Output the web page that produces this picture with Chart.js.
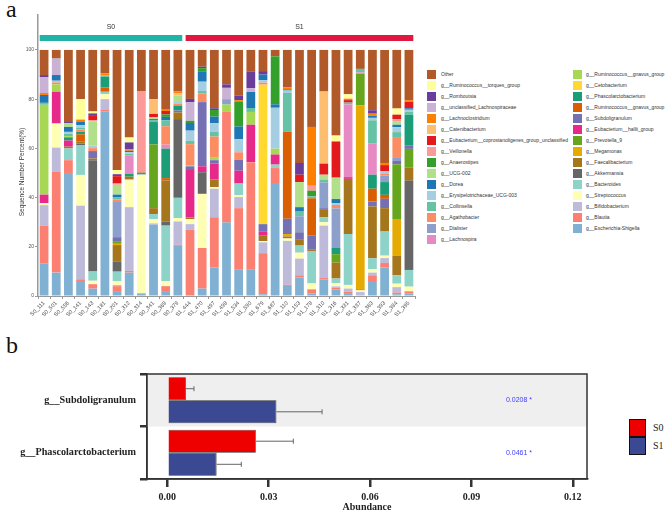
<!DOCTYPE html>
<html>
<head>
<meta charset="utf-8">
<script src="https://cdn.jsdelivr.net/npm/chart.js@4.4.1/dist/chart.umd.min.js"></script>
<style>
  body { margin: 0; background: #fff; width: 671px; height: 516px; position: relative; overflow: hidden; font-family: "Liberation Sans", Arial, sans-serif; }
  #chartA { position: absolute; left: 0; top: 0; }
  #chartB { position: absolute; left: 0; top: 340px; }
  .panel { position: absolute; font-family: "Liberation Serif", serif; font-size: 24px; color: #111; }
  .lg { position: absolute; font-size: 5px; color: #333; white-space: nowrap; line-height: 9px; }
  .sw { position: absolute; width: 9px; height: 9px; }
  .lgb { position: absolute; width: 15px; height: 16px; border: 1.5px solid #111; }
  .lgbt { position: absolute; font-family: "Liberation Serif", serif; font-size: 10px; color: #222; }
</style>
</head>
<body>
<div class="panel" style="left:6px;top:-4px;">a</div>
<div class="panel" style="left:6px;top:332px;">b</div>
<canvas id="chartA" width="425" height="330"></canvas>
<canvas id="chartB" width="600" height="176"></canvas>
<div id="legendA"></div>
<div id="legendB"></div>
<script>
// ---------- panel a: samples ----------
const sampleLabels = ["S0_111", "S0_501", "S0_556", "S0_141", "S0_143", "S0_181", "S0_201", "S0_312", "S0_314", "S0_341", "S0_369", "S0_379",
  "S1_444", "S1_470", "S1_497", "S1_498", "S1_534", "S1_590", "S1_679", "S1_687", "S1_110", "S1_153", "S1_178", "S1_310", "S1_316",
  "S1_331", "S1_337", "S1_363", "S1_393", "S1_384", "S1_395"];
const groupNames = ["S0", "S1"];
const groupSizes = [12, 19];
const groupColors = ["#20B3A6", "#E0173F"];

// relative abundance (%) per genus, one value per sample (bottom of stack first)
const escherichia = [13.3, 9.5, 50, 6.1, 3, 75.1, 2, 9.5, 0.8, 29, 2, 20.4, 0, 3, 11.6, 29.9, 10.9, 10.9, 0.7, 45.9, 4.1, 7.5, 1.1, 6.8, 2.7, 1.2, 0, 6.1, 11.6, 0.7, 1.1];
const blautia = [15.2, 41.1, 5.2, 0.7, 1.8, 0.5, 2, 0.7, 0, 0, 2, 0.4, 26.9, 16.5, 20.4, 44.9, 24.8, 43.5, 16.7, 6.1, 0.5, 0.9, 1.6, 0.5, 0.7, 0.6, 0, 2.3, 1.8, 0.7, 0.8];
const bifidobacterium = [8.4, 9.7, 0, 29.9, 0, 4.4, 0.5, 25.9, 0.4, 0.5, 0, 9.5, 2.3, 0, 11.6, 0, 4.5, 0, 4.4, 0, 17.8, 6.8, 0, 21.3, 0.5, 1.2, 1.6, 1.1, 2, 2.2, 0];
const streptococcus = [0.8, 9.8, 0, 12.5, 1.4, 2, 1.6, 10.9, 48, 1.8, 2, 1.4, 2, 22, 0.7, 0, 0.7, 0, 0.5, 0, 1, 2.4, 2.4, 1.4, 1.3, 1.5, 0.7, 1.4, 1, 1.4, 1.9];
const bacteroides = [0, 0, 4.8, 12, 3.8, 1, 3.8, 0.5, 0.3, 2, 22.6, 8.2, 0, 0, 0, 0, 4.8, 0, 0, 1.4, 0, 2.9, 13.2, 2, 1.9, 20.7, 0, 4.4, 9.8, 3.4, 6.8];
const akkermansia = [0, 0, 0, 0.7, 45.2, 0, 4, 0, 0, 0, 1.6, 32, 0, 8.8, 0, 0, 0, 0, 0, 0, 0, 0, 0, 0, 0, 0, 0, 0, 0, 0, 36.3];
const faecalibacterium = [0, 0, 0.7, 1, 0.7, 0, 6.8, 1, 0.7, 2.4, 16.7, 2.7, 0.7, 0, 3, 0, 0, 0, 2.2, 0, 0.8, 2.6, 0.5, 3, 6.5, 22.4, 0.4, 21.1, 9.5, 7.9, 5.4];
const megamonas = [0, 0, 0, 0, 0, 0, 0.5, 0, 0, 0, 0, 0, 0, 0, 0, 0, 0, 0, 0, 0, 1, 0, 0, 0, 0, 0, 74.8, 0, 0, 15, 0];
const prevotella9 = [0, 0, 0, 0, 0, 0, 1.1, 0, 0, 25.9, 0, 0, 0, 0, 0, 0, 0, 0, 0, 0, 0, 0, 0, 0, 3.4, 0, 12.9, 0, 0, 22.2, 7.5];
const eubHallii = [3.5, 12.9, 2.5, 0, 0, 0, 0, 0, 0, 0, 0, 0, 19.3, 2.4, 6.5, 0, 5.2, 15.2, 1.6, 4.1, 0, 0, 0, 0, 0, 0.7, 0, 0, 0, 0, 0];
const subdoligranulum = [0, 0, 0, 0, 3, 0, 1.6, 0, 0, 0, 0, 0.8, 1.5, 26.1, 1.4, 0, 4.4, 0, 3.1, 0, 6.2, 2.8, 5.7, 0.7, 0, 0, 0, 2, 3.8, 1.6, 1.3];
const rumGnavusB = [0, 0, 0, 2.8, 0, 1.7, 0, 0, 0, 0, 1, 0, 0, 0, 0, 0, 0, 0, 0, 0, 35.5, 0, 15.2, 0, 0, 0, 0, 5.2, 1.6, 0, 0];
const phascolarcto = [0, 0, 1.3, 1, 0, 4.4, 0, 1.2, 0, 9.1, 12, 2, 0, 0, 0, 0, 0, 0, 0, 0, 0, 0, 0, 0, 2.7, 0, 0, 5.7, 5.2, 0, 12.6];
const cetobacterium = [0, 0, 0, 0, 0, 0, 0, 0, 0, 0, 0, 0, 0, 0, 0, 0, 0, 0, 56.7, 0, 0, 0, 0, 0, 0, 0, 0, 0, 0, 0, 0];
const rumGnavusA = [36.5, 3, 0.5, 0, 0, 0, 0, 0, 0, 0, 0, 0, 0.5, 0, 1, 3, 0, 5.2, 0, 2.4, 0, 0, 0, 0, 0, 0, 0, 0, 0, 0, 0];
const lachnospira = [0, 0, 0, 0, 0, 0, 0, 7.5, 0, 0, 1.6, 0, 0, 0, 0, 0, 0, 0, 0, 0, 0, 0, 0, 0, 0, 29.5, 0.5, 12.6, 0, 0, 0];
const dialister = [0, 0, 0, 0, 0, 0, 14.3, 0, 0, 0, 0, 0, 0, 0, 0, 2.2, 0, 0, 0, 0, 0, 6.5, 0, 10.5, 15.9, 0, 0, 0, 2.7, 1, 0];
const agathobacter = [0, 0.8, 0, 1, 1.2, 0, 1, 0, 0, 0, 7.5, 0.8, 8.5, 3.5, 8.6, 0, 3.1, 0, 0.8, 0, 0, 0, 0, 0, 1.4, 0, 0, 0, 0.8, 8.5, 0];
const collinsella = [0.8, 0, 1, 0.7, 0, 0.5, 1, 0.6, 0, 0.6, 2.4, 0, 1.4, 1, 2, 0, 0, 1.6, 0, 0, 15.6, 1.9, 0.8, 1.1, 0, 0.8, 1.4, 9.5, 0, 2, 1.2];
const erysipUCG003 = [0, 0.7, 0.7, 1, 1, 0, 0, 0.6, 0, 0, 0, 1, 4.1, 3.8, 3.4, 0, 5.3, 0, 1, 16.6, 1, 0, 0, 0, 0.8, 0, 0, 1, 1, 2, 0.8];
const dorea = [3.2, 2.3, 2, 1.5, 0, 0, 1, 0.6, 0, 0.6, 1.4, 0, 3.1, 4, 2.7, 0, 5.2, 6.5, 2.3, 1.4, 0.5, 1.8, 0, 0, 1.6, 0, 0, 0.8, 0, 1, 0.6];
const ucg002 = [0, 0, 1.5, 0, 9.8, 0, 4, 0, 0, 0.7, 0, 2.2, 0, 0, 0, 0, 0, 0, 0, 0, 0, 10.2, 0, 2, 8.7, 0, 0, 0, 0, 1.5, 0];
const anaerostipes = [0, 0, 0, 0, 0, 0, 0, 0, 0, 0, 1, 0, 0.9, 1.5, 2.7, 0, 10.2, 0, 0, 19.5, 0, 0, 2.3, 0, 0, 0, 0, 0, 0, 0, 0];
const veillonella = [0, 0, 0, 0, 0.6, 0, 0.5, 0, 33.1, 0, 0, 0, 0, 0, 0, 0, 0, 0, 0, 0, 0, 0, 2, 0, 0, 0, 0, 0, 0, 0.8, 0];
const eubCopro = [0, 0, 0, 0, 1.7, 0, 3, 0, 0, 1.4, 1.4, 0, 0, 0, 0, 0, 0, 0, 0, 0, 0, 3, 0, 4.5, 14.7, 1, 0, 0, 2.4, 1.8, 2.6];
const catenibacterium = [0, 0, 0, 0, 0, 0, 0, 0, 0, 6, 0, 1, 0, 0, 0, 0, 0, 0, 0, 0, 0, 0, 0, 29.3, 0, 0, 0, 0, 0, 0, 0];
const lachnoclostridium = [0.8, 0, 0, 0.8, 0, 0.9, 0, 0.6, 0, 0, 0.8, 0.8, 0, 0, 0, 0, 0.5, 0, 0, 0, 0.8, 0, 23.9, 0, 0, 0.6, 0, 0.9, 0.9, 0, 0.7];
const unclLachno = [6.5, 6.7, 0, 0, 0, 0, 0, 0, 0, 0, 0, 0, 7.5, 0, 0, 4.6, 0, 1.6, 0, 0, 0, 0, 0, 0, 0, 0, 0, 0, 0, 0, 0];
const romboutsia = [0.8, 0, 0.5, 0, 1, 0, 0.8, 2.8, 0, 0, 0, 0, 1.4, 0.6, 0.7, 1.4, 1.9, 6.8, 1.4, 0, 0, 4.8, 0, 0, 0, 0, 0, 1.4, 0, 0, 0];
const rumTorques = [0, 0, 0, 8.3, 0.8, 0, 1.7, 2, 0, 0, 0, 0, 0, 0, 0, 0, 0, 0, 0, 0, 0, 0, 0, 0, 2.4, 1.8, 0, 0, 0, 2.5, 0];
const other = [10.2, 3.5, 29.3, 20, 25, 9.5, 48.8, 35.6, 16.7, 20, 24, 16.8, 19.9, 6.8, 23.7, 14, 18.5, 8.7, 8.6, 2.6, 15.2, 45.9, 31.3, 16.9, 34.8, 18, 7.7, 24.5, 45.9, 23.8, 20.4];

// stack order, bottom to top
const series = [
  ["g__Escherichia-Shigella", "#80B1D3", escherichia],
  ["g__Blautia", "#FB8072", blautia],
  ["g__Bifidobacterium", "#BEBADA", bifidobacterium],
  ["g__Streptococcus", "#FFFFB3", streptococcus],
  ["g__Bacteroides", "#8DD3C7", bacteroides],
  ["g__Akkermansia", "#666666", akkermansia],
  ["g__Faecalibacterium", "#A6761D", faecalibacterium],
  ["g__Megamonas", "#E6AB02", megamonas],
  ["g__Prevotella_9", "#66A61E", prevotella9],
  ["g__Eubacterium__hallii_group", "#E7298A", eubHallii],
  ["g__Subdoligranulum", "#7570B3", subdoligranulum],
  ["g__Ruminococcus__gnavus_group", "#D95F02", rumGnavusB],
  ["g__Phascolarctobacterium", "#1B9E77", phascolarcto],
  ["g__Cetobacterium", "#FFD92F", cetobacterium],
  ["g__Ruminococcus__gnavus_group", "#A6D854", rumGnavusA],
  ["g__Lachnospira", "#E78AC3", lachnospira],
  ["g__Dialister", "#8DA0CB", dialister],
  ["g__Agathobacter", "#FC8D62", agathobacter],
  ["g__Collinsella", "#66C2A5", collinsella],
  ["g__Erysipelotrichaceae_UCG-003", "#A6CEE3", erysipUCG003],
  ["g__Dorea", "#1F78B4", dorea],
  ["g__UCG-002", "#B2DF8A", ucg002],
  ["g__Anaerostipes", "#33A02C", anaerostipes],
  ["g__Veillonella", "#FB9A99", veillonella],
  ["g__Eubacterium__coprostanoligenes_group_unclassified", "#E31A1C", eubCopro],
  ["g__Catenibacterium", "#FDBF6F", catenibacterium],
  ["g__Lachnoclostridium", "#FF7F00", lachnoclostridium],
  ["g__unclassified_Lachnospiraceae", "#CAB2D6", unclLachno],
  ["g__Romboutsia", "#6A3D9A", romboutsia],
  ["g__Ruminococcus__torques_group", "#FFFF99", rumTorques],
  ["Other", "#B15928", other]
];

// ---------- panel b: differential genera ----------
const diffGenera = ["g__Subdoligranulum", "g__Phascolarctobacterium"];
const meanS0 = [0.0055, 0.0262];
const sdS0 = [0.0024, 0.0111];
const meanS1 = [0.0323, 0.0146];
const sdS1 = [0.0135, 0.0073];
const pLabels = ["0.0208 *", "0.0461 *"];
const abundanceTicks = [0, 0.03, 0.06, 0.09, 0.12];

// group header bars above the stacked bars
const groupPlugin = {
  id: "groups",
  afterDraw(chart) {
    const { ctx, scales: { x } } = chart;
    const step = x.getPixelForValue(1) - x.getPixelForValue(0);
    const half = step * 0.72 / 2;
    let start = 0;
    groupNames.forEach((name, i) => {
      const end = start + groupSizes[i] - 1;
      const x0 = x.getPixelForValue(start) - half;
      const x1 = x.getPixelForValue(end) + half;
      ctx.fillStyle = groupColors[i];
      ctx.fillRect(x0, 35, x1 - x0, 6);
      ctx.fillStyle = "#333";
      ctx.font = '7px "Liberation Sans"';
      ctx.textAlign = "center";
      ctx.textBaseline = "middle";
      ctx.fillText(name, (x0 + x1) / 2, 27);
      start = end + 1;
    });
    ctx.save();
    ctx.translate(22, 172);
    ctx.rotate(-Math.PI / 2);
    ctx.font = '6.5px "Liberation Sans"';
    ctx.fillStyle = "#333";
    ctx.textAlign = "center";
    ctx.textBaseline = "middle";
    ctx.fillText("Sequence Number Percent(%)", 0, 0);
    ctx.restore();
  }
};

new Chart(document.getElementById("chartA").getContext("2d"), {
  type: "bar",
  data: {
    labels: sampleLabels,
    datasets: series.map(([name, color, values]) => ({
      label: name,
      data: values,
      backgroundColor: color,
      borderWidth: 0,
      barPercentage: 0.72,
      categoryPercentage: 1
    }))
  },
  options: {
    responsive: false,
    animation: false,
    layout: { padding: { top: 15, right: 10, left: 0, bottom: 0 } },
    plugins: { legend: { display: false }, tooltip: { enabled: false } },
    scales: {
      x: {
        stacked: true,
        grid: { drawOnChartArea: false, tickLength: 3, color: "#999" },
        border: { color: "#999", width: 1 },
        ticks: { minRotation: 45, maxRotation: 45, autoSkip: false, font: { size: 5.5, family: "Liberation Sans" }, color: "#444", padding: 1 },
        afterFit(scale) { scale.height = 34; }
      },
      y: {
        stacked: true,
        min: 0,
        max: 114.2,
        afterBuildTicks(scale) { scale.ticks = [0, 20, 40, 60, 80, 100].map(v => ({ value: v })); },
        grid: { drawOnChartArea: false, tickLength: 3, color: "#999" },
        border: { color: "#999", width: 1.5 },
        ticks: { font: { size: 5, family: "Liberation Sans" }, color: "#555", padding: 1 },
        afterFit(scale) { scale.width = 38; }
      }
    }
  },
  plugins: [groupPlugin]
});

// legend for panel a, two columns, top of stack first
const legendA = document.getElementById("legendA");
series.slice().reverse().forEach(([name, color], i) => {
  const col = i < 16 ? 0 : 1;
  const row = i < 16 ? i : i - 16;
  const top = 69.5 + row * 11;
  const sw = document.createElement("div");
  sw.className = "sw";
  sw.style.left = (col ? 573 : 427) + "px";
  sw.style.top = top + "px";
  sw.style.background = color;
  legendA.appendChild(sw);
  const t = document.createElement("div");
  t.className = "lg";
  t.style.left = (col ? 586 : 441) + "px";
  t.style.top = top + "px";
  t.textContent = name;
  legendA.appendChild(t);
});

// panel b: shaded row, frame, error bars, p values
const framePlugin = {
  id: "frame",
  beforeDatasetsDraw(chart) {
    const { ctx, chartArea: a, scales: { y } } = chart;
    const mid = (y.getPixelForValue(0) + y.getPixelForValue(1)) / 2;
    ctx.fillStyle = "#EFEFEF";
    ctx.fillRect(a.left, a.top, a.right - a.left, mid - a.top);
  },
  afterDatasetsDraw(chart) {
    const { ctx, chartArea: a, scales: { x } } = chart;
    const errs = [sdS0, sdS1];
    const means = [meanS0, meanS1];
    ctx.strokeStyle = "#666";
    ctx.lineWidth = 1;
    chart.data.datasets.forEach((ds, di) => {
      chart.getDatasetMeta(di).data.forEach((bar, i) => {
        const xe = x.getPixelForValue(means[di][i] + errs[di][i]);
        ctx.beginPath();
        ctx.moveTo(bar.x, bar.y);
        ctx.lineTo(xe, bar.y);
        ctx.moveTo(xe, bar.y - 2.5);
        ctx.lineTo(xe, bar.y + 2.5);
        ctx.stroke();
      });
    });
    const y = chart.scales.y;
    ctx.fillStyle = "#3D3DFF";
    ctx.font = '7px "Liberation Sans"';
    ctx.textAlign = "center";
    ctx.textBaseline = "middle";
    pLabels.forEach((p, i) => ctx.fillText(p, a.right - 68, y.getPixelForValue(i)));
    ctx.strokeStyle = "#333";
    ctx.lineWidth = 1.5;
    ctx.strokeRect(a.left, a.top, a.right - a.left, a.bottom - a.top);
  }
};

const serifBold = { family: "Liberation Serif", weight: "bold", size: 10 };
new Chart(document.getElementById("chartB").getContext("2d"), {
  type: "bar",
  data: {
    labels: diffGenera,
    datasets: [
      { label: "S0", data: meanS0, backgroundColor: "#EE0000", borderColor: "#333", borderWidth: 0.8 },
      { label: "S1", data: meanS1, backgroundColor: "#3B4992", borderColor: "#333", borderWidth: 0.8 }
    ]
  },
  options: {
    indexAxis: "y",
    responsive: false,
    animation: false,
    layout: { padding: { top: 34, right: 13, left: 0, bottom: 0 } },
    datasets: { bar: { categoryPercentage: 0.88, barPercentage: 1 } },
    plugins: { legend: { display: false }, tooltip: { enabled: false } },
    scales: {
      x: {
        min: -0.006,
        max: 0.1242,
        afterBuildTicks(scale) { scale.ticks = abundanceTicks.map(v => ({ value: v })); },
        ticks: { callback: v => v.toFixed(2), font: serifBold, color: "#222", padding: 4 },
        grid: { drawOnChartArea: false, tickLength: 8, lineWidth: 2.5, color: "#333" },
        border: { color: "#333", width: 1.5 },
        title: { display: true, text: "Abundance", font: serifBold, color: "#222", padding: { top: 0, bottom: 3 } },
        afterFit(scale) { scale.height = 37; }
      },
      y: {
        ticks: { font: { family: "Liberation Serif", weight: "bold", size: 10.2 }, color: "#222", padding: 4 },
        grid: { drawOnChartArea: false, tickLength: 7, lineWidth: 2.5, color: "#333" },
        border: { color: "#333", width: 1.5 },
        afterFit(scale) { scale.width = 147; }
      }
    }
  },
  plugins: [framePlugin]
});

// legend for panel b
const legendB = document.getElementById("legendB");
[["S0", "#EE0000"], ["S1", "#3B4992"]].forEach(([name, color], i) => {
  const box = document.createElement("div");
  box.className = "lgb";
  box.style.left = "629px";
  box.style.top = (419 + i * 18) + "px";
  box.style.background = color;
  legendB.appendChild(box);
  const t = document.createElement("div");
  t.className = "lgbt";
  t.style.left = "653px";
  t.style.top = (422 + i * 18) + "px";
  t.textContent = name;
  legendB.appendChild(t);
});
</script>
</body>
</html>
